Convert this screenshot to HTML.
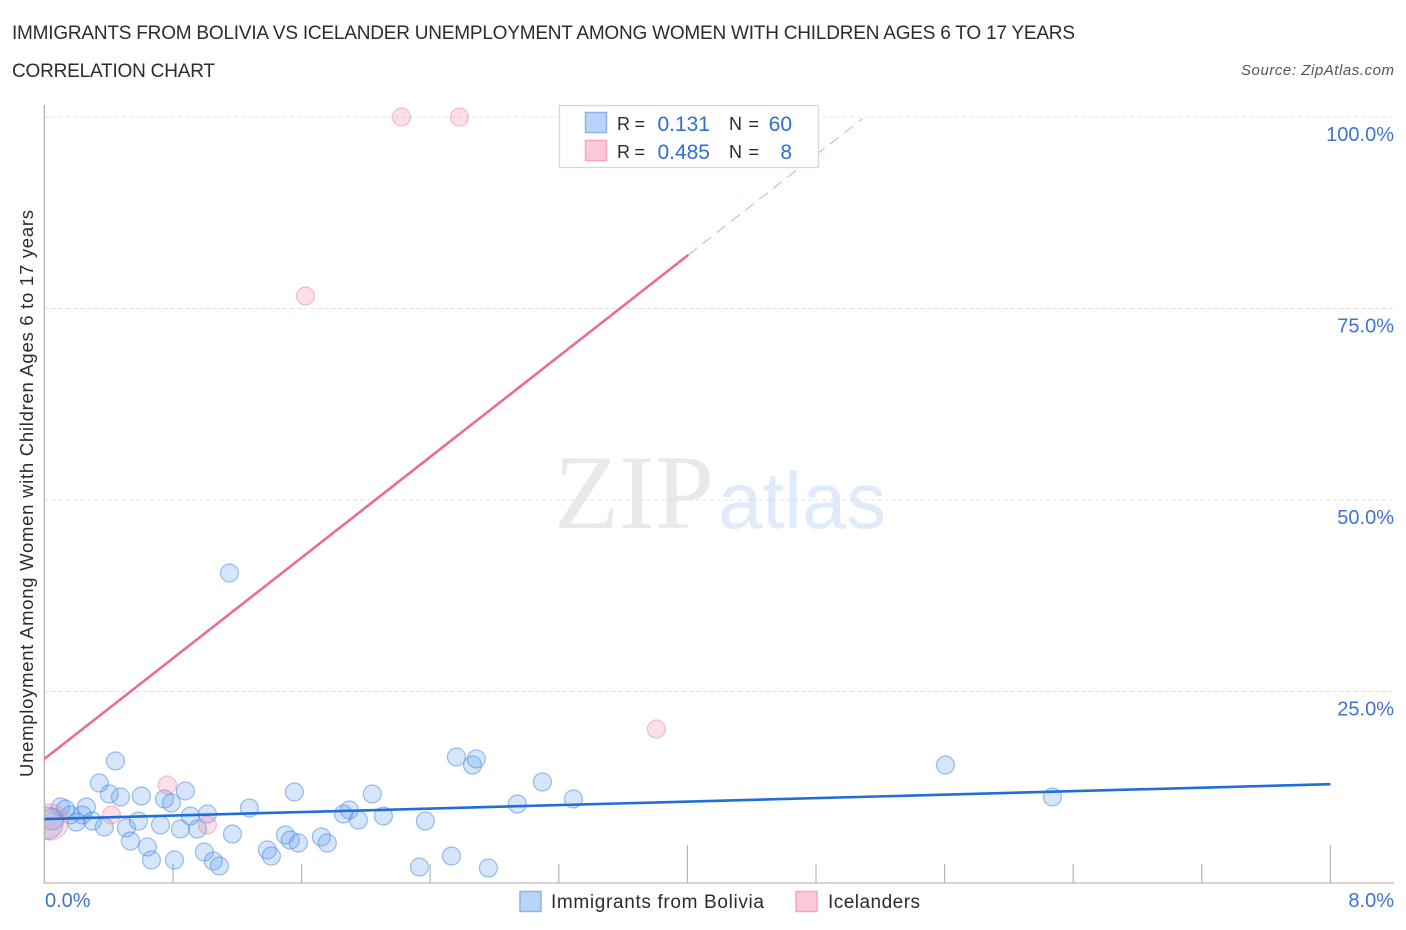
<!DOCTYPE html>
<html lang="en">
<head>
<meta charset="utf-8">
<title>Immigrants from Bolivia vs Icelander Unemployment Correlation Chart</title>
<style>
html,body{margin:0;padding:0;background:#fff;width:1406px;height:930px;overflow:hidden}
svg{display:block;font-family:"Liberation Sans",sans-serif}
</style>
</head>
<body>
<svg id="chart" width="1406" height="930" viewBox="0 0 1406 930" xmlns="http://www.w3.org/2000/svg">
  <rect width="1406" height="930" fill="#fff"/>
  <defs><clipPath id="plot-clip"><rect x="45" y="100" width="1349" height="783"/></clipPath></defs>

  <text x="12" y="39" font-size="19" fill="#2b2b33" textLength="1063" lengthAdjust="spacing">IMMIGRANTS FROM BOLIVIA VS ICELANDER UNEMPLOYMENT AMONG WOMEN WITH CHILDREN AGES 6 TO 17 YEARS</text>
  <text x="12" y="77" font-size="19" fill="#2b2b33" textLength="203" lengthAdjust="spacing">CORRELATION CHART</text>
  <text x="1394" y="75" font-size="15" font-style="italic" fill="#555" text-anchor="end" textLength="153" lengthAdjust="spacing">Source: ZipAtlas.com</text>

  <g>
    <text x="554" y="528" font-family="'Liberation Serif',serif" font-size="106" fill="#e9e9e9" textLength="160" lengthAdjust="spacingAndGlyphs">ZIP</text>
    <text x="718" y="528" font-size="80" fill="#dfeafa" textLength="168" lengthAdjust="spacingAndGlyphs">atlas</text>
  </g>

  <g id="grid"></g>
  <g id="axes"></g>
  <g id="points" clip-path="url(#plot-clip)"></g>
  <g id="trends"></g>
  <g id="tick-labels"></g>

  <text transform="translate(33,777) rotate(-90)" font-size="18.5" fill="#2b2b33" textLength="567" lengthAdjust="spacing">Unemployment Among Women with Children Ages 6 to 17 years</text>

  <g>
    <rect x="559.5" y="105.5" width="259" height="62" fill="#fff" stroke="#d8d8d8" stroke-width="1.3"/>
    <rect x="585.5" y="112.5" width="21" height="20" fill="#b9d4f8" stroke="#8db4ea" stroke-width="1.5"/>
    <text x="617" y="130" font-size="18" fill="#2b2b33" textLength="28" lengthAdjust="spacing">R =</text>
    <text x="710" y="131" font-size="21" fill="#2f6fd0" text-anchor="end">0.131</text>
    <text x="729" y="130" font-size="18" fill="#2b2b33" textLength="30" lengthAdjust="spacing">N =</text>
    <text x="792" y="131" font-size="21" fill="#2f6fd0" text-anchor="end">60</text>
    <rect x="585.5" y="140.5" width="21" height="20" fill="#fcc9da" stroke="#f3a6c0" stroke-width="1.5"/>
    <text x="617" y="158" font-size="18" fill="#2b2b33" textLength="28" lengthAdjust="spacing">R =</text>
    <text x="710" y="159" font-size="21" fill="#2f6fd0" text-anchor="end">0.485</text>
    <text x="729" y="158" font-size="18" fill="#2b2b33" textLength="30" lengthAdjust="spacing">N =</text>
    <text x="792" y="159" font-size="21" fill="#2f6fd0" text-anchor="end">8</text>
  </g>

  <g>
    <rect x="520" y="891.5" width="21" height="20" fill="#b9d4f8" stroke="#8db4ea" stroke-width="1.5"/>
    <text x="551" y="908" font-size="19" fill="#2b2b33" textLength="213" lengthAdjust="spacing">Immigrants from Bolivia</text>
    <rect x="796" y="891.5" width="21" height="20" fill="#fcc9da" stroke="#f3a6c0" stroke-width="1.5"/>
    <text x="828" y="908" font-size="19" fill="#2b2b33" textLength="92" lengthAdjust="spacing">Icelanders</text>
  </g>
</svg>
<script>
// Chart data (percent units)
const xTickValues = [0.8, 1.6, 2.4, 3.2, 4, 4.8, 5.6, 6.4, 7.2, 8];
const xEndLabels = ["0.0%", "8.0%"];
const yTickValues = [25, 50, 75, 100];
const yTickLabels = ["25.0%", "50.0%", "75.0%", "100.0%"];

const boliviaX = [1.151,.442,.342,.404,.473,.603,.747,.790,.877,.100,.131,.261,.162,.236,.199,.299,.373,.510,.585,.722,.846,.908,.952,1.014,1.170,1.275,.535,.641,.666,.809,.995,1.051,1.089,1.387,1.412,1.499,1.530,1.580,1.555,1.723,1.760,1.860,1.897,1.953,2.040,2.109,2.370,2.333,2.532,2.762,2.563,2.663,2.687,2.942,3.098,3.291,5.605,6.271,.050,.016];
const boliviaY = [40.47,15.93,13.05,11.62,11.23,11.36,10.97,10.44,12.01,9.92,9.66,9.92,8.88,8.88,7.96,8.09,7.31,7.18,8.09,7.57,7.05,8.75,7.05,9.01,6.40,9.79,5.48,4.70,3.00,3.00,4.05,2.87,2.22,4.31,3.52,6.27,5.61,5.22,11.88,6.01,5.22,9.01,9.53,8.22,11.62,8.75,8.09,2.09,3.52,1.96,16.45,15.40,16.19,10.31,13.19,10.97,15.40,11.23,8.35,7.83];
const boliviaWeight = [1,1,1,1,1,1,1,1,1,1,1,1,1,1,1,1,1,1,1,1,1,1,1,1,1,1,1,1,1,1,1,1,1,1,1,1,1,1,1,1,1,1,1,1,1,1,1,1,1,1,1,1,1,1,1,1,1,1,1.45,3.2];

const icelanderX = [2.221,2.582,1.624,3.807,.765,.417,1.014,.037];
const icelanderY = [100,100,76.63,20.1,12.80,8.88,7.57,7.96];
const icelanderWeight = [1,1,1,1,1,1,1,4];

const boliviaTrendX = [0, 8];
const boliviaTrendY = [8.35, 12.9];
const icelanderTrendX = [0, 4.006];
const icelanderTrendY = [16.2, 82];
const icelanderTrendProjectedEndX = [5.09];

// Axis functions
const xScale = v => 44.4 + v * 160.75;
const yScale = v => 883 - v * 7.66;
const radius = w => 9 * Math.sqrt(w);
const NS = 'http://www.w3.org/2000/svg';
const make = (parent, tag, attrs) => {
  const el = document.createElementNS(NS, tag);
  Object.keys(attrs).forEach(k => el.setAttribute(k, attrs[k]));
  parent.appendChild(el);
  return el;
};
const gridG = document.getElementById('grid');
const axesG = document.getElementById('axes');
const pointsG = document.getElementById('points');
const trendsG = document.getElementById('trends');
const labelsG = document.getElementById('tick-labels');

yTickValues.forEach((v, i) => {
  const line = make(gridG, 'line', {x1: 45, x2: 1394, y1: yScale(v), y2: yScale(v), stroke: '#e0e0e0', 'stroke-width': 1, 'stroke-dasharray': '4 3'});
  
  
  const label = make(labelsG, 'text', {x: 1394, y: yScale(v) + 24, 'font-size': 20, fill: '#3f74d2', 'text-anchor': 'end'});
  label.textContent = yTickLabels[i];
  
  
});

const yAxis = make(axesG, 'line', {x1: 44.4, x2: 44.4, y1: 105, y2: 884, stroke: '#b5b5b5', 'stroke-width': 1.4});


const xAxis = make(axesG, 'line', {x1: 44, x2: 1394, y1: 883, y2: 883, stroke: '#c6c6c6', 'stroke-width': 1.6});



xTickValues.forEach(v => {
  const tick = make(axesG, 'line', {x1: xScale(v), x2: xScale(v), y1: v % 4 === 0 ? 845 : 864, y2: 883, stroke: '#b5b5b5', 'stroke-width': 1.2});
  
  
});

const x0Label = make(labelsG, 'text', {x: 45, y: 907, 'font-size': 20, fill: '#3f74d2'});
x0Label.textContent = xEndLabels[0];


const x1Label = make(labelsG, 'text', {x: 1394, y: 907, 'font-size': 20, fill: '#3f74d2', 'text-anchor': 'end'});
x1Label.textContent = xEndLabels[1];



boliviaX.forEach((v, i) => {
  const c = make(pointsG, 'circle', {cx: xScale(v), cy: yScale(boliviaY[i]), r: radius(boliviaWeight[i]), fill: 'rgba(100,160,235,0.27)', stroke: 'rgba(80,140,225,0.55)', 'stroke-width': 1.2});
  
  
});
icelanderX.forEach((v, i) => {
  const c = make(pointsG, 'circle', {cx: xScale(v), cy: yScale(icelanderY[i]), r: radius(icelanderWeight[i]), fill: 'rgba(240,140,165,0.28)', stroke: 'rgba(238,130,160,0.5)', 'stroke-width': 1.2});
  
  
});

const blueTrend = make(trendsG, 'line', {x1: xScale(boliviaTrendX[0]), y1: yScale(boliviaTrendY[0]), x2: xScale(boliviaTrendX[1]), y2: yScale(boliviaTrendY[1]), stroke: '#1f6fd6', 'stroke-width': 2.6});



const pinkTrend = make(trendsG, 'line', {x1: xScale(icelanderTrendX[0]), y1: yScale(icelanderTrendY[0]), x2: xScale(icelanderTrendX[1]), y2: yScale(icelanderTrendY[1]), stroke: '#ea6a98', 'stroke-width': 2.6});



const pinkSlope = (icelanderTrendY[1] - icelanderTrendY[0]) / (icelanderTrendX[1] - icelanderTrendX[0]);
const projY = icelanderTrendY[1] + pinkSlope * (icelanderTrendProjectedEndX[0] - icelanderTrendX[1]);
const pinkDash = make(trendsG, 'line', {x1: xScale(icelanderTrendX[1]), y1: yScale(icelanderTrendY[1]), x2: xScale(icelanderTrendProjectedEndX[0]), y2: yScale(projY), stroke: '#f0a0bc', 'stroke-width': 1, 'stroke-dasharray': '11 7'});


</script>
</body>
</html>
